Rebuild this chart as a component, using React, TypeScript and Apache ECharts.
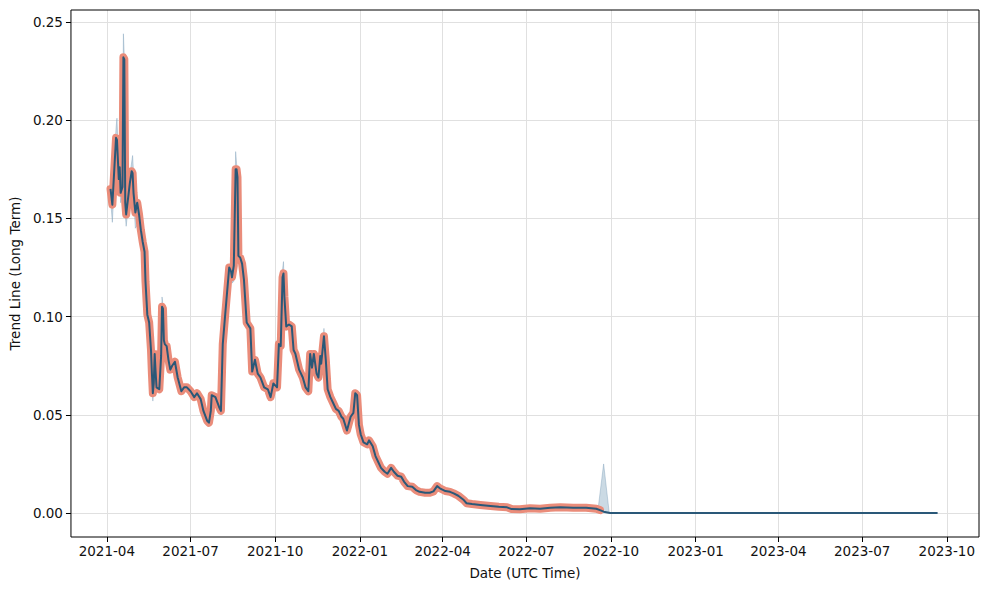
import React, { useEffect, useRef } from "react";
import * as echarts from "echarts";

// ---- Data ----
const trendDates = [
  "2021-04-05", "2021-04-07", "2021-04-11", "2021-04-12", "2021-04-14", "2021-04-15", "2021-04-16", "2021-04-18",
  "2021-04-19", "2021-04-20", "2021-04-21", "2021-04-22", "2021-04-24", "2021-04-26", "2021-04-28", "2021-04-29",
  "2021-04-30", "2021-05-02", "2021-05-04", "2021-05-06", "2021-05-08", "2021-05-10", "2021-05-12", "2021-05-13",
  "2021-05-15", "2021-05-17", "2021-05-19", "2021-05-20", "2021-05-21", "2021-05-22", "2021-05-23", "2021-05-24",
  "2021-05-25", "2021-05-28", "2021-05-30", "2021-05-31", "2021-06-01", "2021-06-02", "2021-06-03", "2021-06-05",
  "2021-06-07", "2021-06-09", "2021-06-11", "2021-06-14", "2021-06-17", "2021-06-21", "2021-06-24", "2021-06-27",
  "2021-07-01", "2021-07-05", "2021-07-08", "2021-07-12", "2021-07-15", "2021-07-19", "2021-07-21", "2021-07-23",
  "2021-07-24", "2021-07-28", "2021-08-01", "2021-08-03", "2021-08-05", "2021-08-08", "2021-08-10", "2021-08-12",
  "2021-08-14", "2021-08-15", "2021-08-17", "2021-08-19", "2021-08-20", "2021-08-21", "2021-08-22", "2021-08-24",
  "2021-08-26", "2021-08-28", "2021-08-31", "2021-09-04", "2021-09-06", "2021-09-09", "2021-09-12", "2021-09-15",
  "2021-09-19", "2021-09-23", "2021-09-26", "2021-09-29", "2021-10-03", "2021-10-05", "2021-10-07", "2021-10-09",
  "2021-10-10", "2021-10-11", "2021-10-13", "2021-10-16", "2021-10-19", "2021-10-21", "2021-10-23", "2021-10-27",
  "2021-10-31", "2021-11-03", "2021-11-06", "2021-11-08", "2021-11-10", "2021-11-12", "2021-11-15", "2021-11-17",
  "2021-11-19", "2021-11-20", "2021-11-23", "2021-11-25", "2021-11-27", "2021-11-30", "2021-12-03", "2021-12-06",
  "2021-12-09", "2021-12-12", "2021-12-14", "2021-12-18", "2021-12-22", "2021-12-25", "2021-12-27", "2021-12-29",
  "2021-12-31", "2022-01-02", "2022-01-05", "2022-01-09", "2022-01-11", "2022-01-15", "2022-01-18", "2022-01-21",
  "2022-01-24", "2022-01-28", "2022-01-31", "2022-02-04", "2022-02-07", "2022-02-11", "2022-02-15", "2022-02-18",
  "2022-02-22", "2022-02-27", "2022-03-03", "2022-03-07", "2022-03-13", "2022-03-18", "2022-03-22", "2022-03-26",
  "2022-03-29", "2022-04-04", "2022-04-09", "2022-04-13", "2022-04-18", "2022-04-24", "2022-04-27", "2022-05-03",
  "2022-05-12", "2022-05-23", "2022-06-01", "2022-06-10", "2022-06-15", "2022-06-24", "2022-07-05", "2022-07-16",
  "2022-07-27", "2022-08-07", "2022-08-21", "2022-09-04", "2022-09-15", "2022-09-19",
];
const trendValues = [
  0.165, 0.157, 0.191, 0.19, 0.17, 0.176, 0.163, 0.166,
  0.232, 0.231, 0.158, 0.152, 0.16, 0.168, 0.174, 0.173,
  0.163, 0.153, 0.158, 0.152, 0.144, 0.138, 0.133, 0.118,
  0.101, 0.097, 0.083, 0.071, 0.061, 0.066, 0.081, 0.072,
  0.064, 0.063, 0.08, 0.105, 0.104, 0.088, 0.086, 0.085,
  0.078, 0.073, 0.075, 0.077, 0.069, 0.062, 0.064, 0.064,
  0.062, 0.059, 0.061, 0.058, 0.052, 0.047, 0.046, 0.052,
  0.06, 0.059, 0.054, 0.052, 0.086, 0.103, 0.114, 0.125,
  0.123, 0.12, 0.126, 0.175, 0.175, 0.171, 0.131, 0.13,
  0.127, 0.119, 0.097, 0.094, 0.072, 0.078, 0.071, 0.069,
  0.064, 0.063, 0.059, 0.066, 0.064, 0.086, 0.085, 0.12,
  0.122, 0.11, 0.095, 0.096, 0.095, 0.083, 0.081, 0.073,
  0.069, 0.064, 0.062, 0.081, 0.074, 0.081, 0.071, 0.069,
  0.08, 0.076, 0.09, 0.078, 0.063, 0.059, 0.056, 0.053,
  0.052, 0.049, 0.048, 0.042, 0.049, 0.051, 0.061, 0.06,
  0.045, 0.04, 0.036, 0.035, 0.037, 0.034, 0.029, 0.026,
  0.023, 0.021, 0.02, 0.023, 0.021, 0.019, 0.0185, 0.016,
  0.0137, 0.0134, 0.0117, 0.0108, 0.0103, 0.0103, 0.011, 0.0137,
  0.0126, 0.0112, 0.0108, 0.01, 0.0088, 0.0066, 0.005, 0.0046,
  0.0041, 0.0036, 0.0032, 0.0029, 0.002, 0.0019, 0.0024, 0.0022,
  0.0027, 0.0029, 0.0027, 0.0027, 0.0022, 0.0015,
];
const tailDates = ["2022-09-23", "2022-09-30", "2023-09-21"];
const tailValues = [0.0007, 0, 0];

// Visible parts of the range band: [date, low, high]
const bandApr2021: [string, number, number][] = [
  ["2021-04-05", 0.16, 0.167], ["2021-04-07", 0.148, 0.159], ["2021-04-11", 0.186, 0.196],
  ["2021-04-12", 0.186, 0.201], ["2021-04-14", 0.166, 0.176], ["2021-04-15", 0.17, 0.18],
  ["2021-04-16", 0.158, 0.166], ["2021-04-18", 0.162, 0.168], ["2021-04-19", 0.22, 0.244],
  ["2021-04-20", 0.2, 0.232], ["2021-04-21", 0.152, 0.16], ["2021-04-22", 0.146, 0.155],
  ["2021-04-26", 0.163, 0.172], ["2021-04-29", 0.168, 0.182], ["2021-05-02", 0.145, 0.156],
  ["2021-05-06", 0.148, 0.155], ["2021-05-08", 0.14, 0.146], ["2021-05-12", 0.13, 0.135],
];
const bandMay2021: [string, number, number][] = [
  ["2021-05-20", 0.068, 0.073], ["2021-05-21", 0.057, 0.063], ["2021-05-22", 0.063, 0.068],
  ["2021-05-30", 0.078, 0.082], ["2021-05-31", 0.101, 0.11], ["2021-06-01", 0.1, 0.106],
  ["2021-06-02", 0.086, 0.09],
];
const bandAug2021: [string, number, number][] = [
  ["2021-08-15", 0.117, 0.122], ["2021-08-17", 0.118, 0.128], ["2021-08-19", 0.17, 0.184],
  ["2021-08-20", 0.17, 0.178], ["2021-08-21", 0.166, 0.173], ["2021-08-22", 0.128, 0.133],
];
const bandOct2021: [string, number, number][] = [
  ["2021-10-07", 0.083, 0.088], ["2021-10-09", 0.116, 0.124], ["2021-10-10", 0.118, 0.128],
  ["2021-10-11", 0.106, 0.113], ["2021-10-13", 0.093, 0.097],
];
const bandNov2021: [string, number, number][] = [
  ["2021-11-20", 0.074, 0.078], ["2021-11-23", 0.088, 0.094], ["2021-11-25", 0.076, 0.08],
];
const bandSep2022: [string, number, number][] = [
  ["2022-09-17", 0.0016, 0.0022], ["2022-09-23", 0.0003, 0.025], ["2022-09-29", 0.0, 0.0004],
];
const bandPatches = [bandApr2021, bandMay2021, bandAug2021, bandOct2021, bandNov2021, bandSep2022];

const xTicks = [
  "2021-04-01", "2021-07-01", "2021-10-01", "2022-01-01", "2022-04-01", "2022-07-01",
  "2022-10-01", "2023-01-01", "2023-04-01", "2023-07-01", "2023-10-01",
];
const yTicks = [0, 0.05, 0.1, 0.15, 0.2, 0.25];
const xRange = ["2021-02-21", "2023-11-05"];
const yRange = [-0.0122, 0.2561];

function toMs(s: string): number {
  const [y, m, d] = s.split("-").map(Number);
  return Date.UTC(y, m - 1, d);
}

const FONT = "DejaVu Sans";
const TEXT = "#111";
const GRID = "#e0e0e0";

export default function App() {
  const ref = useRef<HTMLDivElement>(null);

  useEffect(() => {
    if (!ref.current) return;
    const chart = echarts.init(ref.current, undefined, { renderer: "svg" });

    const trendData = trendDates.map((d, i) => [toMs(d), trendValues[i]]);
    const tailData = tailDates.map((d, i) => [toMs(d), tailValues[i]]);
    const xTickMs = xTicks.map(toMs);

    const option: any = {
      animation: false,
      backgroundColor: "#fff",
      grid: {
        left: 70,
        right: 10,
        top: 10,
        bottom: 53,
        show: true,
        borderColor: "#000",
        borderWidth: 1,
        backgroundColor: "transparent",
        z: 5,
      },
      xAxis: {
        type: "value",
        min: toMs(xRange[0]),
        max: toMs(xRange[1]),
        axisLine: { show: false, onZero: false },
        axisTick: {
          show: true,
          length: 5,
          lineStyle: { color: "#000", width: 1 },
          customValues: xTickMs,
        },
        axisLabel: {
          customValues: xTickMs,
          color: TEXT,
          fontFamily: FONT,
          fontSize: 13.5,
          margin: 7,
          formatter: (v: number) => {
            const i = xTickMs.indexOf(v);
            return i >= 0 ? xTicks[i].slice(0, 7) : "";
          },
        },
        splitLine: { show: true, lineStyle: { color: GRID, width: 1 } },
        name: "Date (UTC Time)",
        nameLocation: "middle",
        nameGap: 29,
        nameTextStyle: { color: TEXT, fontFamily: FONT, fontSize: 13.5 },
      },
      yAxis: {
        type: "value",
        min: yRange[0],
        max: yRange[1],
        axisLine: { show: false, onZero: false },
        axisTick: {
          show: true,
          length: 5,
          lineStyle: { color: "#000", width: 1 },
          customValues: yTicks,
        },
        axisLabel: {
          customValues: yTicks,
          color: TEXT,
          fontFamily: FONT,
          fontSize: 13.5,
          margin: 8,
          formatter: (v: number) => v.toFixed(2),
        },
        splitLine: { show: true, lineStyle: { color: GRID, width: 1 } },
        name: "Trend Line (Long Term)",
        nameLocation: "middle",
        nameGap: 46,
        nameTextStyle: { color: TEXT, fontFamily: FONT, fontSize: 13.5 },
      },
      series: [
        {
          type: "custom",
          silent: true,
          z: 1,
          clip: true,
          data: bandPatches.map((p) => [toMs(p[0][0]), p[0][1]]),
          encode: { x: 0, y: 1 },
          renderItem: (params: any, api: any) => {
            const patch = bandPatches[params.dataIndex];
            const top = patch.map(([d, , hi]) => api.coord([toMs(d), hi]));
            const bottom = patch
              .slice()
              .reverse()
              .map(([d, lo]) => api.coord([toMs(d), lo]));
            return {
              type: "polygon",
              shape: { points: top.concat(bottom) },
              style: {
                fill: "rgba(140,172,196,0.45)",
                stroke: "rgba(120,155,182,0.5)",
                lineWidth: 0.8,
              },
            };
          },
        },
        {
          type: "line",
          z: 2,
          data: trendData,
          showSymbol: false,
          symbol: "none",
          silent: true,
          lineStyle: { color: "#ea8c7a", width: 8, cap: "round", join: "round" },
        },
        {
          type: "line",
          z: 3,
          data: trendData.concat(tailData),
          showSymbol: false,
          symbol: "none",
          silent: true,
          lineStyle: { color: "#2a5878", width: 2, join: "round" },
        },
      ],
    };

    chart.setOption(option);
    return () => chart.dispose();
  }, []);

  return (
    <div
      ref={ref}
      style={{ position: "fixed", left: 0, top: 0, width: 989, height: 590, background: "#fff" }}
    />
  );
}
